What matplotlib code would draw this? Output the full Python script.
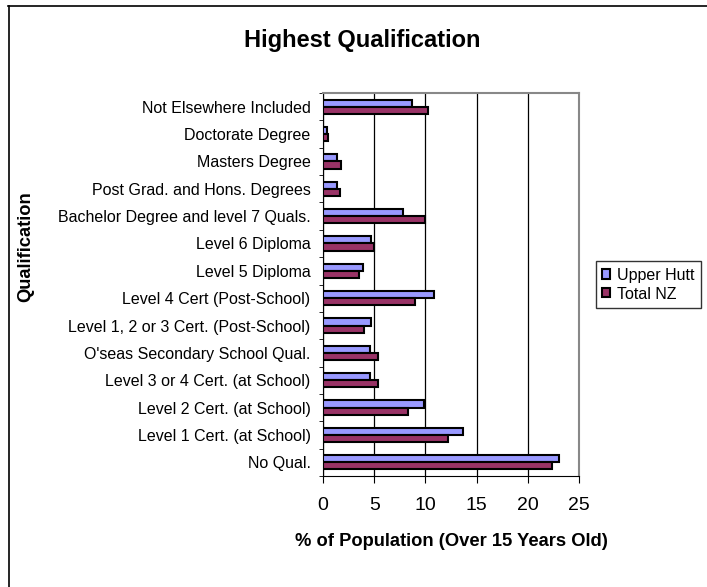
import matplotlib.pyplot as plt
from matplotlib.lines import Line2D
import numpy as np

plt.rcParams['font.family'] = ['Liberation Sans', 'DejaVu Sans']

categories = [
    "No Qual.",
    "Level 1 Cert. (at School)",
    "Level 2 Cert. (at School)",
    "Level 3 or 4 Cert. (at School)",
    "O'seas Secondary School Qual.",
    "Level 1, 2 or 3 Cert. (Post-School)",
    "Level 4 Cert (Post-School)",
    "Level 5 Diploma",
    "Level 6 Diploma",
    "Bachelor Degree and level 7 Quals.",
    "Post Grad. and Hons. Degrees",
    "Masters Degree",
    "Doctorate Degree",
    "Not Elsewhere Included",
]
upper_hutt = [23.0, 13.7, 9.9, 4.6, 4.6, 4.7, 10.8, 3.9, 4.7, 7.8, 1.4, 1.4, 0.4, 8.7]
total_nz = [22.4, 12.2, 8.3, 5.4, 5.4, 4.0, 9.0, 3.5, 5.0, 10.0, 1.7, 1.8, 0.5, 10.3]

W, H = 707, 587
fig = plt.figure(figsize=(W / 100, H / 100), dpi=100)
# plot area in pixels: x 323..579, y 93..476
ax = fig.add_axes([323 / W, 1 - 476 / H, 256 / W, 383 / H])

y = np.arange(len(categories))
h = 0.26
ax.barh(y + h / 2, upper_hutt, h, color="#9999FF", edgecolor="black", linewidth=1.5,
        label="Upper Hutt", zorder=3)
ax.barh(y - h / 2, total_nz, h, color="#993366", edgecolor="black", linewidth=1.5,
        label="Total NZ", zorder=3)

ax.set_xlim(0, 25)
ax.set_ylim(-0.5, len(categories) - 0.5)
ax.set_xticks([0, 5, 10, 15, 20, 25])
ax.tick_params(axis="x", labelsize=14, direction="out", length=5, pad=10)
ax.set_yticks(y)
ax.set_yticklabels(categories, fontsize=11.5)
ax.set_yticks(np.arange(-0.5, len(categories), 1), minor=True)
ax.tick_params(axis="y", which="major", length=0, pad=9)
ax.tick_params(axis="y", which="minor", length=3, direction="out")
ax.xaxis.grid(True, color="black", linewidth=0.9, zorder=0)

for side in ["top", "right"]:
    ax.spines[side].set_color("#888888")
    ax.spines[side].set_linewidth(1.5)
ax.spines["left"].set_color("black")
ax.spines["bottom"].set_color("black")

fig.text(451.5 / W, 1 - 542 / H, "% of Population (Over 15 Years Old)", fontsize=13.25,
         fontweight="bold", ha="center", va="center")
fig.text(26 / W, 1 - 247 / H, "Qualification", rotation=90, fontsize=13.25, fontweight="bold",
         ha="center", va="center")
fig.text(362 / W, 1 - 47 / H, "Highest Qualification", fontsize=17, fontweight="bold",
         ha="center", va="baseline")

leg = fig.legend(*ax.get_legend_handles_labels(), loc="lower left",
                 bbox_to_anchor=(596 / W, 1 - 308 / H), bbox_transform=fig.transFigure,
                 fontsize=11.5, frameon=True, fancybox=False, edgecolor="black",
                 handlelength=0.5, handleheight=0.5, handletextpad=0.4, borderpad=0.4,
                 borderaxespad=0, labelspacing=0.25)
leg.get_frame().set_linewidth(1.0)

# chart-area border (runs off the right and bottom edges of the picture)
fig.lines.append(Line2D([8.5 / W, 8.5 / W], [0, 1 - 6 / H], transform=fig.transFigure,
                        color="black", linewidth=1.2))
fig.lines.append(Line2D([8 / W, 1], [1 - 6 / H, 1 - 6 / H], transform=fig.transFigure,
                        color="black", linewidth=1.2))

fig.savefig("out.png", dpi=100)
